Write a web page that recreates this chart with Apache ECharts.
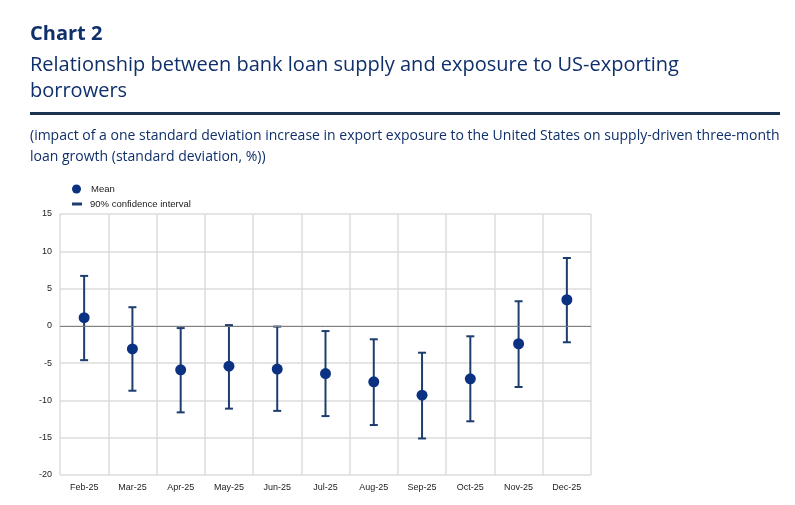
<!DOCTYPE html>
<html>
<head>
<meta charset="utf-8">
<script src="https://cdn.jsdelivr.net/npm/echarts@6/dist/echarts.min.js"></script>
<style>
html,body{margin:0;padding:0;background:#fff;}
#c{width:795px;height:505px;}
</style>
</head>
<body>
<div id="c"></div>
<script>
const categories = ['Feb-25','Mar-25','Apr-25','May-25','Jun-25','Jul-25','Aug-25','Sep-25','Oct-25','Nov-25','Dec-25'];
const meanValues = [1.1, -3.1, -5.9, -5.4, -5.8, -6.4, -7.5, -9.3, -7.1, -2.4, 3.5];
const upperValues = [6.7, 2.5, -0.3, 0.1, -0.1, -0.7, -1.8, -3.6, -1.4, 3.3, 9.1];
const lowerValues = [-4.6, -8.7, -11.6, -11.1, -11.4, -12.1, -13.3, -15.1, -12.8, -8.2, -2.2];
const yMin = -20, yMax = 15, yStep = 5;

const titleText = 'Chart 2';
const subtitleLines = ['Relationship between bank loan supply and exposure to US-exporting', 'borrowers'];
const noteLines = ['(impact of a one standard deviation increase in export exposure to the United States on supply-driven three-month', 'loan growth (standard deviation, %))'];

const navy = '#10306b';
const chart = echarts.init(document.getElementById('c'), null, {renderer:'canvas'});

const graphics = [
  {type:'text', x:30, y:24, style:{text:titleText, font:'bold 20px "Open Sans"', fill:navy}},
  {type:'text', x:30, y:55, style:{text:subtitleLines[0], font:'20px "Open Sans"', fill:navy}},
  {type:'text', x:30, y:81, style:{text:subtitleLines[1], font:'20px "Open Sans"', fill:navy}},
  {type:'rect', shape:{x:30, y:112, width:750, height:3}, style:{fill:'#1b3350'}},
  {type:'text', x:30, y:129, style:{text:noteLines[0], font:'14px "Open Sans"', fill:navy}},
  {type:'text', x:30, y:150, style:{text:noteLines[1], font:'14px "Open Sans"', fill:navy}}
];

const legendText = {fontFamily:'"Liberation Sans", Arial, sans-serif', fontSize:9.5, color:'#222'};

chart.setOption({
  animation:false,
  graphic: graphics,
  legend: [
    {data:[{name:'Mean', icon:'circle'}], left:72, top:184, itemWidth:9, itemHeight:9, itemGap:5, textStyle:Object.assign({padding:[0,0,0,5]}, legendText), selectedMode:false, padding:0},
    {data:[{name:'90% confidence interval', icon:'rect'}], left:72, top:199, itemWidth:10, itemHeight:3, textStyle:Object.assign({padding:[0,0,0,3]}, legendText), selectedMode:false, padding:0}
  ],
  grid:{left:60, right:204, top:214, bottom:30, containLabel:false},
  xAxis:{
    type:'category', data:categories, boundaryGap:true,
    axisLine:{show:false}, axisTick:{show:false},
    axisLabel:{fontFamily:'"Liberation Sans", Arial, sans-serif', fontSize:9, color:'#222', margin:8, interval:0},
    splitLine:{show:true, interval:0, lineStyle:{color:'#dcdcdc', width:1.5}}
  },
  yAxis:{
    type:'value', min:yMin, max:yMax, interval:yStep,
    axisLine:{show:false}, axisTick:{show:false},
    axisLabel:{fontFamily:'"Liberation Sans", Arial, sans-serif', fontSize:9, color:'#222', margin:8},
    splitLine:{show:true, lineStyle:{color:'#dcdcdc', width:1.5}}
  },
  series:[
    {
      name:'90% confidence interval', type:'custom', z:2,
      itemStyle:{color:'#1d3d6e'},
      data: categories.map((c,i)=>[i, lowerValues[i], upperValues[i]]),
      encode:{x:0, y:[1,2]},
      renderItem:function(params, api){
        const x = api.value(0);
        const lo = api.coord([x, api.value(1)]);
        const hi = api.coord([x, api.value(2)]);
        const hw = 4;
        const st = {stroke:'#1d3d6e', lineWidth:2};
        return {type:'group', children:[
          {type:'line', shape:{x1:hi[0], y1:hi[1], x2:lo[0], y2:lo[1]}, style:st},
          {type:'line', shape:{x1:hi[0]-hw, y1:hi[1], x2:hi[0]+hw, y2:hi[1]}, style:st},
          {type:'line', shape:{x1:lo[0]-hw, y1:lo[1], x2:lo[0]+hw, y2:lo[1]}, style:st}
        ]};
      },
      markLine:{silent:true, symbol:'none', label:{show:false}, lineStyle:{color:'#808080', width:1, type:'solid'}, data:[{yAxis:0}]}
    },
    {
      name:'Mean', type:'scatter', z:3, symbol:'circle', symbolSize:11,
      itemStyle:{color:'#0b3182', opacity:1},
      data: meanValues
    }
  ]
});
</script>
</body>
</html>
